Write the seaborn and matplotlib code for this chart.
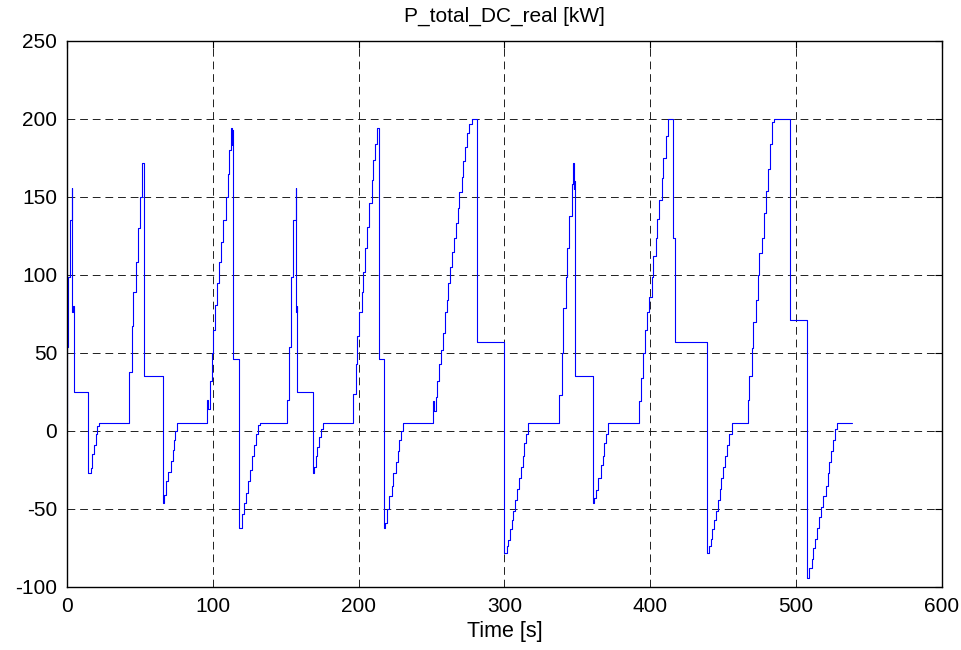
import numpy as np
import pandas as pd
import matplotlib.pyplot as plt
import seaborn as sns

# breakpoints of the signal (held until the next time, steps-post)
t_c1 = [0.0, 0.2, 0.7, 2.1, 3.2, 3.6, 4.3, 4.8, 14.6, 16.5, 17.4, 18.5, 19.7, 20.8, 21.9]
p_c1 = [5, 54, 99, 135, 156, 76, 80, 25, -27, -24, -15, -9, -2, 3, 5]

t_c2 = [42.7, 44.3, 45.5, 47.3, 48.5, 50.1, 51.2, 52.6, 65.6, 66.6, 67.9, 69.5, 71.1, 72.5, 73.4, 74.3, 75.7]
p_c2 = [38, 67, 89, 108, 130, 150, 172, 35, -46, -41, -32, -26, -19, -12, -6, 0, 5]

t_c3 = [96.2, 97.0, 98.1, 99.2, 100.4, 101.5, 102.7, 104.3, 105.6, 107.2, 108.8, 110.2, 111.3, 112.5,
        113.2, 113.5, 114.1, 118.2, 119.8, 121.4, 122.8, 124.4, 125.5, 126.7, 128.3, 129.6, 131.2, 132.4]
p_c3 = [20, 14, 32, 50, 65, 81, 95, 108, 121, 135, 150, 165, 180, 194,
        183, 193, 46, -62, -53, -46, -40, -32, -25, -16, -9, -2, 4, 5]

t_c4 = [151.1, 152.0, 153.5, 155.3, 156.8, 157.1, 157.6, 158.0, 168.6, 169.6, 170.6, 171.8, 173.0, 174.3, 175.6]
p_c4 = [20, 54, 99, 135, 156, 76, 80, 25, -27, -23, -16, -10, -4, 1, 5]

t_c5 = [196.4, 198.0, 199.1, 200.5, 202.1, 203.2, 204.4, 206.0, 207.4, 209.0, 210.1, 211.2, 212.8,
        214.0, 217.2, 218.1, 219.7, 221.1, 222.7, 223.8, 225.4, 226.8, 227.9, 229.1, 230.7]
p_c5 = [24, 43, 61, 76, 89, 102, 117, 131, 146, 161, 174, 184, 194,
        46, -62, -59, -50, -42, -35, -27, -20, -13, -6, 0, 5]

t_c6 = [251.2, 251.7, 253.1, 254.0, 255.4, 256.5, 257.7, 259.3, 260.4, 261.6, 262.7, 264.3, 265.4,
        266.6, 268.0, 269.1, 270.7, 271.8, 273.0, 274.6, 275.9, 277.5, 281.4,
        300.0, 301.5, 302.7, 303.8, 305.0, 306.1, 307.3, 308.9, 310.3, 311.2, 312.5, 313.7, 314.8, 316.4]
p_c6 = [19, 13, 22, 32, 43, 52, 63, 76, 84, 95, 105, 115, 124,
        133, 143, 153, 163, 173, 182, 191, 197, 200, 57,
        -78, -74, -70, -63, -57, -51, -44, -37, -30, -23, -16, -8, -2, 5]

t_c7 = [337.7, 339.2, 340.4, 342.2, 343.2, 344.5, 346.1, 347.3, 347.6, 347.9, 348.4,
        360.5, 361.5, 363.0, 364.5, 366.0, 367.3, 368.6, 369.9, 371.3]
p_c7 = [23, 50, 79, 99, 117, 138, 158, 172, 155, 160, 35,
        -46, -43, -38, -30, -22, -16, -8, -2, 5]

t_c8 = [392.5, 393.7, 395.3, 396.4, 398.0, 399.4, 401.0, 402.1, 403.7, 404.9, 406.3, 407.8, 409.0, 410.6,
        412.0, 415.6, 417.0, 439.0, 440.3, 441.5, 442.7, 443.9, 445.1, 446.3, 447.6, 448.9, 450.1,
        451.4, 452.7, 454.0, 455.9]
p_c8 = [19, 34, 50, 65, 76, 86, 99, 112, 124, 136, 148, 162, 175, 189,
        200, 124, 57, -78, -74, -69, -63, -57, -51, -44, -37, -30, -23,
        -16, -9, -2, 5]

t_c9 = [466.9, 468.0, 469.7, 470.8, 472.4, 473.8, 474.9, 476.5, 478.1, 479.5, 481.1, 482.2, 483.8, 485.0,
        495.6, 507.5, 509.2, 510.7, 511.9, 513.0, 514.6, 516.0, 517.1, 518.7, 520.3, 521.7, 522.8,
        524.0, 525.6, 526.7, 528.3, 538.2]
p_c9 = [20, 35, 53, 70, 84, 100, 114, 124, 140, 154, 168, 184, 198, 200,
        71, -94, -88, -82, -75, -69, -62, -55, -49, -42, -35, -27, -20,
        -13, -6, 1, 5, 5]

x_ticks = [0, 100, 200, 300, 400, 500, 600]
y_ticks = [-100, -50, 0, 50, 100, 150, 200, 250]

sns.set_theme(style="white")
plt.rcParams['font.family'] = ['Liberation Sans', 'DejaVu Sans']
plt.rcParams['axes.unicode_minus'] = False
plt.rcParams['text.color'] = 'black'
plt.rcParams['axes.labelcolor'] = 'black'

times = [t_c1, t_c2, t_c3, t_c4, t_c5, t_c6, t_c7, t_c8, t_c9]
powers = [p_c1, p_c2, p_c3, p_c4, p_c5, p_c6, p_c7, p_c8, p_c9]
df = pd.DataFrame({"t": np.concatenate(times), "p": np.concatenate(powers)})

fig, ax = plt.subplots(figsize=(9.62, 6.5), dpi=100)
fig.subplots_adjust(left=0.0696, right=0.979, bottom=0.097, top=0.937)

ax.set_axisbelow(True)
ax.grid(True, color="#202020", linestyle=(0, (8, 5)), lw=0.7)

sns.lineplot(data=df, x="t", y="p", estimator=None, sort=False, drawstyle="steps-post",
             color="#0000ff", lw=0.8, ax=ax)

ax.set_xlim(0, 600)
ax.set_ylim(-100, 250)
ax.set_xticks(x_ticks)
ax.set_yticks(y_ticks)
ax.tick_params(direction="in", top=True, right=True, length=5, width=0.8,
               labelsize=15, pad=7, color="black", labelcolor="black")
for s in ax.spines.values():
    s.set_color("black")
    s.set_linewidth(1.0)

ax.set_title("P_total_DC_real [kW]", fontsize=15, pad=14, color="black")
ax.set_xlabel("Time [s]", fontsize=15.5, labelpad=4, color="black")
ax.set_ylabel("")

plt.savefig("out.png", dpi=100)
